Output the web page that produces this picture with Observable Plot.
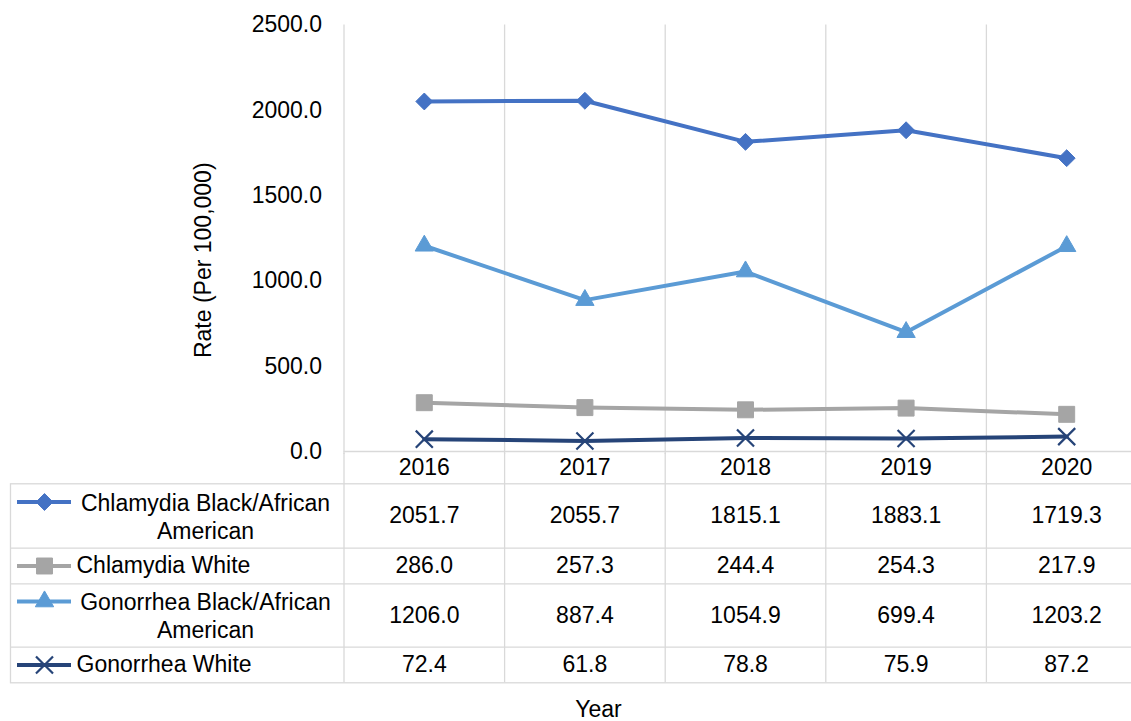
<!DOCTYPE html>
<html><head><meta charset="utf-8">
<script src="https://cdn.jsdelivr.net/npm/d3@7"></script>
<script src="https://cdn.jsdelivr.net/npm/@observablehq/plot@0.6"></script>
<style>
html,body{margin:0;padding:0;background:#fff;overflow:hidden;}
#chart svg{display:block;}
#chart svg.chartA{position:relative;z-index:2;overflow:visible;}
#chart svg.chartB{position:relative;z-index:1;}
</style></head><body><div id="chart"></div>
<script>
// ---- data ----
const years = [2016, 2017, 2018, 2019, 2020];
const seriesNames = ["Chlamydia Black/African American", "Chlamydia White", "Gonorrhea Black/African American", "Gonorrhea White"];
const tableLabels = ["Chlamydia Black/African\nAmerican", "Chlamydia White", "Gonorrhea Black/African\nAmerican", "Gonorrhea White"];
const chlamydiaBlack = [2051.7, 2055.7, 1815.1, 1883.1, 1719.3];
const chlamydiaWhite = [286.0, 257.3, 244.4, 254.3, 217.9];
const gonorrheaBlack = [1206.0, 887.4, 1054.9, 699.4, 1203.2];
const gonorrheaWhite = [72.4, 61.8, 78.8, 75.9, 87.2];
const yTicks = [0, 500, 1000, 1500, 2000, 2500];
const yLabel = "Rate (Per 100,000)";
const xLabel = "Year";

// ---- styles ----
const seriesValues = [chlamydiaBlack, chlamydiaWhite, gonorrheaBlack, gonorrheaWhite];
const colors = ["#4472C4", "#A5A5A5", "#5B9BD5", "#264478"];
const symbols = ["diamond2", "square", "triangle", "times"];
const radii = [7.6, 9.0, 6.8, 7.8];
const FONT = "'Liberation Sans', Arial, Helvetica, sans-serif";
const FS = 23;
const GRID = "#D9D9D9";
const W = 1131;

const long = [];
seriesNames.forEach((s, i) => years.forEach((y, j) => long.push({series: s, idx: i, year: y, value: seriesValues[i][j]})));

const xScale = {type: "linear", domain: [2015.5, 2020.5], range: [343.5, 1146.5], axis: null};
const boundaries = d3.range(2015.5, 2021, 1);

// ---- chart ----
const marksA = [
  Plot.ruleX(boundaries, {stroke: GRID, strokeWidth: 1.3, insetBottom: -3}),
  Plot.ruleY([0], {stroke: GRID, strokeWidth: 1.3}),
  Plot.axisY({ticks: yTicks, tickFormat: d => d.toFixed(1), tickSize: 0, tickPadding: 22, fontSize: FS, label: null}),
  Plot.text([yLabel], {text: d => d, frameAnchor: "left", textAnchor: "middle", rotate: -90, dx: 203 - 343.5, dy: 22, fontSize: FS, fill: "#000"})
];
seriesNames.forEach((s, i) => {
  const d = long.filter(r => r.idx === i);
  marksA.push(Plot.line(d, {x: "year", y: "value", stroke: colors[i], strokeWidth: 4, strokeLinejoin: "round"}));
  marksA.push(Plot.dot(d, {x: "year", y: "value", symbol: symbols[i], r: radii[i],
    fill: symbols[i] === "times" ? "none" : colors[i], stroke: colors[i], strokeWidth: symbols[i] === "times" ? 2.2 : 1}));
});

const plotA = Plot.plot({
  width: W, height: 453,
  marginLeft: 343.5, marginRight: 0, marginTop: 24.5, marginBottom: 2,
  x: xScale,
  y: {domain: [0, 2500], range: [451, 24.5]},
  className: "chartA",
  style: {fontFamily: FONT, fontSize: FS + "px", color: "#000", background: "none"},
  marks: marksA
});

// ---- data table ----
const B0 = 453;
const rowTop = [483.3, 547.7, 583.3, 646.7];
const rowBottom = [547.7, 583.3, 646.7, 682.3];
const rowMid = rowTop.map((t, i) => (t + rowBottom[i]) / 2);
const twoLine = tableLabels.map(t => t.includes("\n"));
const keyY = rowMid.map((m, i) => twoLine[i] ? m - 14 : m);
const rowsIdx = seriesNames.map((s, i) => i);

const marksB = [
  Plot.frame({stroke: GRID, strokeWidth: 1.3, insetTop: rowTop[0] - B0, insetRight: -16}),
  Plot.ruleY(rowTop.slice(1), {stroke: GRID, strokeWidth: 1.3}),
  Plot.ruleX(boundaries, {y1: B0, y2: rowBottom[3], stroke: GRID, strokeWidth: 1.3}),
  Plot.text(years, {x: d => d, y: (451 + rowTop[0]) / 2, text: d => String(d), fill: "#000"}),
  Plot.text(long, {x: "year", y: d => rowMid[d.idx], text: d => d.value.toFixed(1), fill: "#000"}),
  Plot.text(rowsIdx.filter(i => twoLine[i]), {frameAnchor: "left", dx: 195, y: i => rowMid[i], text: i => tableLabels[i], textAnchor: "middle", lineHeight: 28 / FS, fill: "#000"}),
  Plot.text(rowsIdx.filter(i => !twoLine[i]), {frameAnchor: "left", dx: 66, y: i => rowMid[i], text: i => tableLabels[i], textAnchor: "start", fill: "#000"}),
  Plot.text([xLabel], {frameAnchor: "left", textAnchor: "middle", dx: 588, y: 709, text: d => d, fill: "#000"})
];
rowsIdx.forEach(i => {
  marksB.push(Plot.ruleY([keyY[i]], {stroke: colors[i], strokeWidth: 4, insetLeft: 7, insetRight: W - 71}));
  marksB.push(Plot.dot([keyY[i]], {y: d => d, frameAnchor: "left", dx: 34, symbol: symbols[i], r: radii[i],
    fill: symbols[i] === "times" ? "none" : colors[i], stroke: colors[i], strokeWidth: symbols[i] === "times" ? 2.2 : 1}));
});

const plotB = Plot.plot({
  width: W, height: 721 - B0,
  marginLeft: 10, marginRight: 0, marginTop: 0, marginBottom: 721 - rowBottom[3],
  x: xScale,
  y: {domain: [B0, 721], range: [0, 721 - B0], axis: null},
  className: "chartB",
  style: {fontFamily: FONT, fontSize: FS + "px", color: "#000", background: "none"},
  marks: marksB
});

const root = document.getElementById("chart");
root.appendChild(plotA);
root.appendChild(plotB);
</script>
</body></html>
